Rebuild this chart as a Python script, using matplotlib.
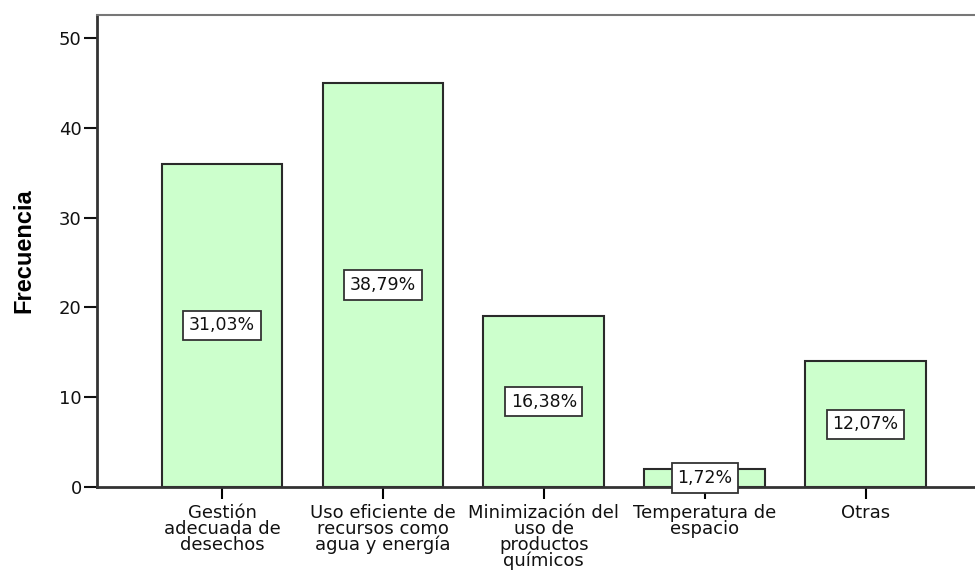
import matplotlib.pyplot as plt

categorias = ['Gestión\nadecuada de\ndesechos',
              'Uso eficiente de\nrecursos como\nagua y energía',
              'Minimización del\nuso de\nproductos\nquímicos',
              'Temperatura de\nespacio',
              'Otras']
frecuencia = [36, 45, 19, 2, 14]
porcentajes = ['31,03%', '38,79%', '16,38%', '1,72%', '12,07%']

plt.rcParams['font.family'] = ['DejaVu Sans']

fig = plt.figure(figsize=(9.75, 5.71), dpi=100)
ax = fig.add_axes([97/975, 1 - 487/571, 1 - 97/975, (487 - 15)/571])

x = list(range(len(categorias)))
ax.bar(x, frecuencia, width=0.75, color='#ccffcc', edgecolor='#2a2a2a', linewidth=1.5, zorder=2)

# etiquetas de porcentaje a media altura de cada barra
for i in x:
    ax.text(i, frecuencia[i] / 2, porcentajes[i], ha='center', va='center', fontsize=12.5,
            color='#111111', zorder=3,
            bbox=dict(boxstyle='square,pad=0.32', facecolor='white', edgecolor='#333333', linewidth=1.3))

ax.set_xlim(-0.777, 4.68)
ax.set_ylim(0, 52.56)
ax.set_yticks([0, 10, 20, 30, 40, 50])
ax.set_xticks(x)
ax.set_xticklabels(categorias, fontsize=13, linespacing=0.84, color='#111111')
ax.tick_params(axis='y', length=9.5, width=1.5, labelsize=13, pad=1.5, colors='#111111')
ax.tick_params(axis='x', length=8.5, width=1.5, pad=4)
ax.set_ylabel('Frecuencia', fontsize=17, fontweight='bold', family='Liberation Sans')
ax.yaxis.set_label_coords(-62/878, 0.5)

ax.spines['right'].set_visible(False)
for s in ['left', 'bottom']:
    ax.spines[s].set_linewidth(2)
    ax.spines[s].set_color('#333333')
ax.spines['top'].set_linewidth(1.5)
ax.spines['top'].set_color('#777777')

fig.savefig('out.png', dpi=100)
